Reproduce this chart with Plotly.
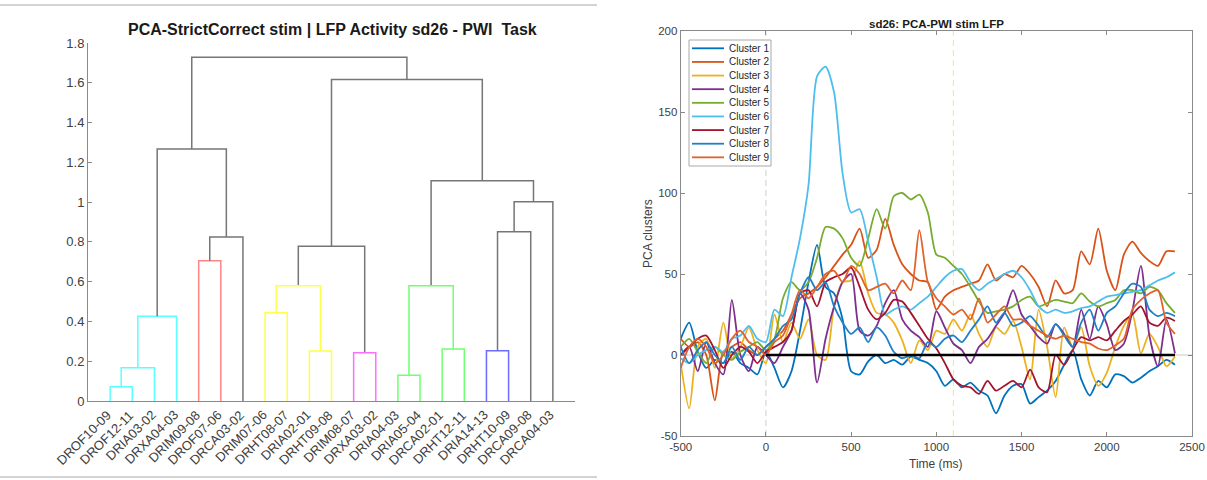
import plotly.graph_objects as go

W, H = 1207, 480
FONT = "Liberation Sans, Arial, sans-serif"
TXT = "#404040"
AX = "#8a8a8a"

# ---------------- Dendrogram data ----------------
leaf_labels = ["DROF10-09", "DROF12-11", "DRIA03-02", "DRXA04-03", "DRIM09-08", "DROF07-06",
               "DRCA03-02", "DRIM07-06", "DRHT08-07", "DRIA02-01", "DRHT09-08", "DRIM08-07",
               "DRXA03-02", "DRIA04-03", "DRIA05-04", "DRCA02-01", "DRHT12-11", "DRIA14-13",
               "DRHT10-09", "DRCA09-08", "DRCA04-03"]
# merges (node ids: leaves 1..21, merges 22..)
merge_left = [1, 22, 23, 5, 25, 24, 8, 10, 28, 12, 30, 14, 16, 33, 18, 36, 37, 35, 32, 27]
merge_right = [2, 3, 4, 6, 7, 26, 9, 11, 29, 13, 31, 15, 17, 34, 19, 20, 21, 38, 39, 40]
merge_height = [0.072, 0.167, 0.426, 0.705, 0.825, 1.267, 0.444, 0.251, 0.580, 0.243, 0.778,
                0.129, 0.261, 0.580, 0.253, 0.851, 1.002, 1.108, 1.617, 1.728]
merge_color = ["c", "c", "c", "r", "k", "k", "y", "y", "y", "m", "k",
               "g", "g", "g", "b", "k", "k", "k", "k", "k"]
color_map = {"c": "#5cffff", "r": "#ff8585", "k": "#767676", "y": "#ffff4a",
             "m": "#ff6eff", "g": "#70ff70", "b": "#6b6bff"}
dendro_yticks = [0, 0.2, 0.4, 0.6, 0.8, 1.0, 1.2, 1.4, 1.6, 1.8]

# ---------------- Time series data ----------------
time_ms = list(range(-500, 2401, 50))
cluster_1 = [10, 20, 2, -8, -3, -5, 2, -5, -8, -12, 2, -8, -20, -10, 15, 45, 68, 42, 38, 22,
             -10, -12, -4, 0, -5, -3, -6, -1, -3, -5, -10, -19, -15, -20, -17, -22, -25, -36, -25, -19,
             -18, -30, -26, -22, -16, -6, 3, -15, -25, -16, -20, -12, -13, -17, -14, -10, -7, -3, -6]
cluster_2 = [10, 5, 8, 0, -28, 2, 5, 8, 3, 0, 5, 10, 15, 25, 35, 38, 42, 48, 55, 62,
             68, 78, 60, 65, 84, 68, 56, 50, 46, 45, 28, 36, 40, 42, 44, 46, 56, 46, 50, 48,
             55, 50, 42, 30, 46, 38, 40, 64, 56, 78, 52, 40, 62, 70, 63, 58, 55, 64, 64]
cluster_3 = [-5, -33, 5, 10, -8, 20, -2, 5, 17, 3, -5, 25, 8, 20, 10, 22, 0, -3, 30, 45,
             46, 58, 38, 26, 25, 20, 9, -5, 9, 3, 15, 13, 22, 15, 25, 13, 5, 17, 13, 21,
             5, -15, 28, 5, -26, 17, 5, 17, -7, -19, -11, 5, 18, 25, 1, 13, 5, -7, -1]
cluster_4 = [0, 5, -10, 8, -5, -12, 34, 0, -10, 5, 0, -5, 5, 15, 38, 28, -17, 10, 30, 45,
             50, 15, 12, 18, 32, 40, 22, 15, 11, 5, 27, 17, 7, 3, -5, 5, 10, 18, 26, 40,
             25, 18, 11, 7, 19, 13, 5, 28, 10, 30, 19, 3, 7, 27, 55, 12, -7, 22, 1]
cluster_5 = [5, 10, 2, -5, 5, 0, -3, 2, 5, 8, 3, 10, 35, 45, 40, 45, 60, 79, 78, 72,
             60, 55, 72, 90, 78, 98, 100, 96, 99, 88, 62, 60, 55, 50, 42, 33, 26, 27, 28, 30,
             34, 36, 30, 32, 34, 33, 32, 38, 33, 30, 32, 34, 40, 40, 38, 42, 40, 32, 26]
cluster_6 = [-2, -5, 0, 3, 5, 2, 10, 12, 18, 10, 8, 28, 24, 48, 72, 105, 172, 178, 162, 112,
             88, 90, 70, 48, 25, 28, 30, 28, 32, 36, 42, 48, 52, 53, 45, 40, 44, 47, 50, 52,
             48, 40, 30, 26, 28, 26, 27, 29, 30, 33, 36, 37, 38, 39, 40, 43, 46, 48, 51]
cluster_7 = [0, 5, 10, 12, 3, -8, 0, 5, 2, -5, 2, 5, 8, 15, 38, 40, 30, 45, 48, 50,
             54, 42, 28, 22, 26, 34, 33, 26, 18, 10, 4, -5, -15, -19, -20, -24, -16, -22, -19, -16,
             -20, -9, -20, -23, 0, -6, 3, 11, 9, 11, 9, 15, 21, 25, 30, 20, 18, 23, 21]
cluster_8 = [5, -5, 3, 8, 0, -5, 5, -3, 5, 0, 5, 10, 18, 22, 38, 48, 40, 45, 30, 20,
             13, 17, 8, 17, 12, 2, -2, 0, -2, 8, 5, 10, 12, 8, 15, 22, 30, 20, 26, 18,
             20, 24, 18, 11, 19, 12, 5, 20, 28, 15, 26, 30, 38, 44, 42, 28, 24, 26, 24]
cluster_9 = [-8, 5, 10, 5, -5, 0, 10, 15, 8, 5, 0, 8, 12, 25, 40, 35, 42, 50, 52, 45,
             55, 50, 40, 42, 44, 38, 46, 40, 77, 45, 35, 30, 25, 28, 22, 35, 20, 25, 30, 22,
             22, 18, 15, 12, 10, 12, 10, 8, 7, 4, 3, 6, 10, 28, 34, 38, 40, 20, 13]
series = [cluster_1, cluster_2, cluster_3, cluster_4, cluster_5, cluster_6, cluster_7, cluster_8, cluster_9]
series_names = ["Cluster %d" % i for i in range(1, 10)]
series_colors = ["#0072BD", "#D95319", "#EDB120", "#7E2F8E", "#77AC30", "#4DBEEE", "#A2142F",
                 "#1f80c8", "#E0632B"]
stim_onset = 0
response_mark = 1100
baseline_end = 2400

x_ticks = [-500, 0, 500, 1000, 1500, 2000, 2500]
y_ticks = [-50, 0, 50, 100, 150, 200]

fig = go.Figure()

# ---------------- Dendrogram traces ----------------
n_leaves = len(leaf_labels)
pos = {i + 1: (float(i + 1), 0.0) for i in range(n_leaves)}
segs = {}
for k in range(len(merge_left)):
    xl, hl = pos[merge_left[k]]
    xr, hr = pos[merge_right[k]]
    h = merge_height[k]
    segs.setdefault(merge_color[k], ([], []))
    xs, ys = segs[merge_color[k]]
    xs += [xl, xl, xr, xr, None]
    ys += [hl, h, h, hr, None]
    pos[n_leaves + 1 + k] = ((xl + xr) / 2.0, h)
for c, (xs, ys) in segs.items():
    fig.add_trace(go.Scatter(x=xs, y=ys, mode="lines", xaxis="x", yaxis="y",
                             line=dict(color=color_map[c], width=1.5), showlegend=False,
                             hoverinfo="skip"))

# ---------------- Time series traces ----------------
fig.add_trace(go.Scatter(x=[x_ticks[0], x_ticks[-1]], y=[0, 0], mode="lines", xaxis="x2", yaxis="y2",
                         line=dict(color="#c8c8c8", width=1), showlegend=False, hoverinfo="skip"))
fig.add_trace(go.Scatter(x=[stim_onset, stim_onset], y=[y_ticks[0], y_ticks[-1]], mode="lines",
                         xaxis="x2", yaxis="y2", line=dict(color="#cfcfcf", width=1, dash="6px,4px"),
                         showlegend=False, hoverinfo="skip"))
fig.add_trace(go.Scatter(x=[response_mark, response_mark], y=[y_ticks[0], y_ticks[-1]], mode="lines",
                         xaxis="x2", yaxis="y2", line=dict(color="#f3ee55", width=1, dash="6px,4px"),
                         showlegend=False, hoverinfo="skip"))
for name, vals, col in zip(series_names, series, series_colors):
    fig.add_trace(go.Scatter(x=time_ms, y=vals, mode="lines", name=name, xaxis="x2", yaxis="y2",
                             line=dict(color=col, width=1.8, shape="spline", smoothing=0.7),
                             showlegend=False))
fig.add_trace(go.Scatter(x=[stim_onset, baseline_end], y=[0, 0], mode="lines", xaxis="x2", yaxis="y2",
                         line=dict(color="black", width=2.4), showlegend=False, hoverinfo="skip"))

def fmt(v):
    return "%g" % v

axis_common = dict(showgrid=False, zeroline=False, showline=True, linecolor=AX, linewidth=1,
                   tickcolor=AX, automargin=False)

fig.update_layout(
    width=W, height=H, margin=dict(l=0, r=0, t=0, b=0, autoexpand=False),
    paper_bgcolor="white", plot_bgcolor="white",
    font=dict(family=FONT, color=TXT),
    showlegend=False,
    xaxis=dict(domain=[88 / W, 575 / W], range=[0, n_leaves + 1], anchor="y",
               showticklabels=False, ticks="", **axis_common),
    yaxis=dict(domain=[1 - 401 / H, 1 - 43 / H], range=[0, 1.8], anchor="x",
               tickvals=dendro_yticks, ticktext=[fmt(v) for v in dendro_yticks],
               ticks="inside", ticklen=4, tickfont=dict(family=FONT, color=TXT, size=13),
               **axis_common),
    xaxis2=dict(domain=[680.7 / W, 1192 / W], range=[x_ticks[0], x_ticks[-1]], anchor="y2",
                tickvals=x_ticks, ticktext=[fmt(v) for v in x_ticks], ticks="inside", ticklen=4,
                mirror="allticks", tickfont=dict(family=FONT, color=TXT, size=11.5), **axis_common),
    yaxis2=dict(domain=[1 - 436 / H, 1 - 31 / H], range=[y_ticks[0], y_ticks[-1]], anchor="x2",
                tickvals=y_ticks, ticktext=[fmt(v) for v in y_ticks], ticks="inside", ticklen=4,
                mirror="allticks", tickfont=dict(family=FONT, color=TXT, size=11.5), **axis_common),
)

annotations = [
    dict(text="<b>PCA-StrictCorrect stim | LFP Activity sd26 - PWI  Task</b>", x=332 / W, y=1 - 29 / H,
         xref="paper", yref="paper", showarrow=False, xanchor="center", yanchor="middle",
         font=dict(family=FONT, size=16, color="#1a1a1a")),
    dict(text="<b>sd26: PCA-PWI stim LFP</b>", x=936 / W, y=1 - 24 / H,
         xref="paper", yref="paper", showarrow=False, xanchor="center", yanchor="middle",
         font=dict(family=FONT, size=11.5, color="#1a1a1a")),
    dict(text="PCA clusters", x=648 / W, y=1 - 234 / H, xref="paper", yref="paper",
         showarrow=False, textangle=-90, xanchor="center", yanchor="middle",
         font=dict(family=FONT, size=12, color=TXT)),
    dict(text="Time (ms)", x=936 / W, y=1 - 464 / H, xref="paper", yref="paper",
         showarrow=False, xanchor="center", yanchor="middle",
         font=dict(family=FONT, size=12, color=TXT)),
]
# dendrogram leaf labels (rotated)
for i, lab in enumerate(leaf_labels):
    annotations.append(dict(text=lab, x=i + 1, y=1 - 405 / H, xref="x", yref="paper",
                            showarrow=False, textangle=-45, xanchor="right", yanchor="top",
                            xshift=7, font=dict(family=FONT, size=13, color=TXT)))

# custom legend (compact like the original)
LEG_X0, LEG_X1, LEG_Y0, LEG_Y1 = 689, 771, 40, 166
LEG_ROW0, LEG_DY = 48.3, 13.63
shapes = [
    dict(type="line", xref="paper", yref="paper", x0=0, x1=597 / W, y0=1 - 5 / H, y1=1 - 5 / H,
         line=dict(color="#c4c4c4", width=1.5)),
    dict(type="line", xref="paper", yref="paper", x0=0, x1=597 / W, y0=1 - 477 / H, y1=1 - 477 / H,
         line=dict(color="#c4c4c4", width=1.5)),
    dict(type="rect", xref="paper", yref="paper", x0=LEG_X0 / W, x1=LEG_X1 / W,
         y0=1 - LEG_Y1 / H, y1=1 - LEG_Y0 / H, fillcolor="white",
         line=dict(color="#a8a8a8", width=1), layer="above"),
]
for i, (name, col) in enumerate(zip(series_names, series_colors)):
    yy = 1 - (LEG_ROW0 + i * LEG_DY) / H
    shapes.append(dict(type="line", xref="paper", yref="paper", x0=692 / W, x1=724 / W, y0=yy, y1=yy,
                       line=dict(color=col, width=1.8), layer="above"))
    annotations.append(dict(text=name, x=727 / W, y=yy, xref="paper", yref="paper", showarrow=False,
                            xanchor="left", yanchor="middle",
                            font=dict(family=FONT, size=10, color="#262626")))

fig.update_layout(annotations=annotations, shapes=shapes)

fig.write_html("out.html")
